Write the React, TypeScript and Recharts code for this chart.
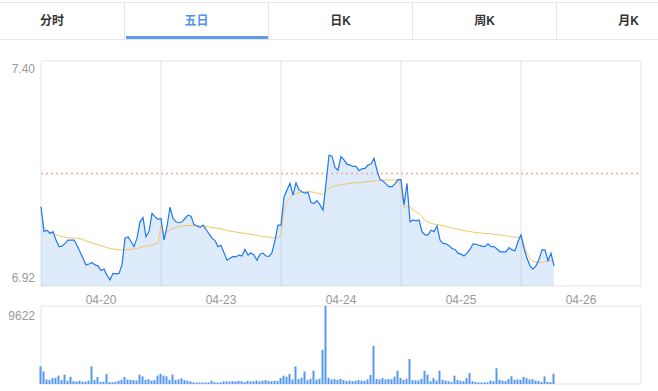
import {
  Area,
  Bar,
  BarChart,
  CartesianGrid,
  ComposedChart,
  Line,
  ReferenceLine,
  XAxis,
  YAxis,
} from "recharts";

const tabs = ["分时", "五日", "日K", "周K", "月K"];
const activeTab = 1;

const dayLabels = ["04-20", "04-23", "04-24", "04-25", "04-26"];
const pointsPerDay = 40;
const priceRange = [6.92, 7.4];
const prevClose = 7.16;
const volumeMax = 9622;

const price0420 = [
  7.089, 7.036, 7.039, 7.032, 7.036, 7.018, 7.004, 7.005, 7.011, 7.018,
  7.018, 7.018, 7.007, 6.993, 6.979, 6.965, 6.967, 6.97, 6.965, 6.963,
  6.953, 6.956, 6.943, 6.933, 6.947, 6.946, 6.947, 6.965, 7.022, 7.025,
  7.015, 7.004, 7.022, 7.057, 7.066, 7.025, 7.036, 7.075, 7.068, 7.062,
];
const price0423 = [
  7.064, 7.018, 7.047, 7.088, 7.064, 7.057, 7.055, 7.057, 7.064, 7.071,
  7.069, 7.051, 7.048, 7.045, 7.05, 7.041, 7.031, 7.022, 7.017, 7.004,
  7.007, 6.991, 6.975, 6.979, 6.983, 6.982, 6.986, 6.984, 6.998, 6.986,
  6.991, 6.986, 6.975, 6.988, 6.99, 6.984, 6.983, 6.991, 7.018, 7.05,
];
const price0424 = [
  7.05, 7.11, 7.125, 7.139, 7.114, 7.14, 7.125, 7.121, 7.118, 7.12,
  7.098, 7.096, 7.102, 7.093, 7.082, 7.139, 7.199, 7.197, 7.173, 7.167,
  7.196, 7.189, 7.18, 7.178, 7.175, 7.175, 7.166, 7.17, 7.171, 7.178,
  7.18, 7.192, 7.167, 7.147, 7.144, 7.138, 7.132, 7.132, 7.138, 7.147,
];
const price0425 = [
  7.147, 7.093, 7.139, 7.057, 7.061, 7.059, 7.061, 7.036, 7.029, 7.029,
  7.039, 7.036, 7.048, 7.018, 7.011, 7.01, 7.006, 7.0, 6.998, 6.99,
  6.988, 6.984, 6.99, 6.998, 7.01, 7.009, 7.007, 7.005, 7.004, 7.01,
  7.004, 7.004, 6.999, 6.993, 6.993, 6.993, 7.002, 6.997, 6.995, 7.015,
];
const price0426 = [
  7.029, 7.0, 6.979, 6.963, 6.956, 6.963, 6.977, 6.997, 6.997, 6.974, 6.99, 6.963,
];

const avg0420 = [
  7.08, 7.045, 7.038, 7.035, 7.032, 7.029, 7.027, 7.025, 7.024, 7.023,
  7.023, 7.022, 7.022, 7.021, 7.019, 7.016, 7.014, 7.012, 7.01, 7.008,
  7.006, 7.004, 7.002, 7.0, 6.999, 6.998, 6.997, 6.997, 6.997, 6.998,
  6.998, 6.999, 7.0, 7.002, 7.004, 7.005, 7.006, 7.008, 7.01, 7.011,
];
const avg0423 = [
  7.05, 7.028, 7.035, 7.04, 7.043, 7.045, 7.047, 7.048, 7.049, 7.049,
  7.049, 7.049, 7.049, 7.048, 7.048, 7.047, 7.046, 7.045, 7.044, 7.043,
  7.042, 7.04, 7.039, 7.037, 7.036, 7.035, 7.034, 7.033, 7.032, 7.031,
  7.03, 7.029, 7.028, 7.027, 7.026, 7.025, 7.024, 7.023, 7.022, 7.022,
];
const avg0424 = [
  7.03, 7.085, 7.1, 7.108, 7.114, 7.117, 7.119, 7.12, 7.121, 7.121,
  7.121, 7.12, 7.118, 7.117, 7.115, 7.122, 7.128, 7.132, 7.134, 7.135,
  7.136, 7.137, 7.138, 7.139, 7.14, 7.14, 7.141, 7.141, 7.142, 7.143,
  7.143, 7.144, 7.145, 7.146, 7.146, 7.146, 7.146, 7.146, 7.146, 7.146,
];
const avg0425 = [
  7.13, 7.086, 7.091, 7.088, 7.083, 7.079, 7.075, 7.068, 7.06, 7.056,
  7.054, 7.052, 7.051, 7.05, 7.049, 7.047, 7.045, 7.044, 7.042, 7.041,
  7.04, 7.038, 7.037, 7.036, 7.035, 7.034, 7.033, 7.033, 7.032, 7.032,
  7.031, 7.03, 7.03, 7.029, 7.028, 7.027, 7.026, 7.025, 7.024, 7.024,
];
const avg0426 = [
  7.026, 7.008, 6.99, 6.978, 6.973, 6.971, 6.97, 6.97, 6.972, 6.974, 6.975, 6.975,
];

const vol0420 = [
  2170, 1540, 560, 520, 720, 760, 1030, 480, 1150, 400,
  890, 350, 300, 420, 310, 290, 420, 2170, 480, 860,
  260, 300, 1250, 240, 230, 280, 420, 520, 860, 540,
  510, 480, 420, 1150, 940, 520, 600, 420, 480, 1030,
];
const vol0423 = [
  1250, 1030, 940, 520, 1150, 480, 560, 690, 480, 400,
  330, 200, 180, 190, 170, 200, 190, 420, 230, 180,
  200, 310, 340, 300, 360, 320, 400, 340, 240, 380,
  330, 350, 440, 320, 420, 480, 380, 330, 420, 380,
];
const vol0424 = [
  740, 1030, 900, 1230, 560, 2170, 600, 780, 1540, 480,
  650, 1640, 540, 650, 4230, 9622, 760, 560, 610, 520,
  640, 480, 380, 420, 350, 400, 480, 420, 380, 560,
  1110, 4700, 620, 560, 740, 560, 620, 580, 900, 1640,
];
const vol0425 = [
  740, 520, 640, 3080, 480, 450, 450, 640, 1640, 1150,
  350, 720, 420, 1640, 520, 420, 350, 240, 1030, 500,
  400, 350, 720, 1350, 350, 240, 200, 190, 210, 200,
  420, 350, 1950, 520, 420, 350, 600, 960, 520, 560,
];
const vol0426 = [520, 860, 720, 560, 600, 420, 380, 240, 940, 260, 240, 1270];

const priceByDay = [price0420, price0423, price0424, price0425, price0426];
const avgByDay = [avg0420, avg0423, avg0424, avg0425, avg0426];
const volByDay = [vol0420, vol0423, vol0424, vol0425, vol0426];

const data = priceByDay.flatMap((prices, d) =>
  prices.map((p, k) => ({
    t: d * pointsPerDay + k,
    price: p,
    avg: avgByDay[d][k],
    vol: volByDay[d][k],
  }))
);

const dayTicks = dayLabels.map((_, i) => i * pointsPerDay).concat(dayLabels.length * pointsPerDay);
const xDomain = [0, dayLabels.length * pointsPerDay];

const font = "'Liberation Sans', Arial, 'Noto Sans CJK SC', sans-serif";
const labelColor = "#999";
const gridColor = "#e1e5ea";
const halfDay = 60;

function DayTick({ x, y, payload }: any) {
  const label = dayLabels[payload.value / pointsPerDay];
  if (!label) return <g />;
  return (
    <text x={x + halfDay} y={y + 12} dy="0.35em" textAnchor="middle" fill={labelColor} fontSize={12} fontFamily={font}>
      {label}
    </text>
  );
}

function EdgeTick({ x, y, payload, top, topLabel, bottomLabel, shift }: any) {
  const isTop = payload.value === top;
  return (
    <text
      x={x}
      y={isTop ? y + shift : y - shift}
      dy="0.35em"
      textAnchor="end"
      fill={labelColor}
      fontSize={12}
      fontFamily={font}
    >
      {isTop ? topLabel : bottomLabel}
    </text>
  );
}

function Tabs() {
  return (
    <div style={{ position: "absolute", left: 0, top: 2, width: 658, height: 36, borderTop: "1px solid #e6e6e6", borderBottom: "1px solid #e6e6e6", overflow: "hidden" }}>
      {tabs.map((t, i) => (
        <div
          key={t}
          style={{
            position: "absolute",
            left: -20 + i * 144,
            top: 0,
            width: 144,
            height: 36,
            boxSizing: "border-box",
            borderLeft: i > 0 ? "1px solid #e6e6e6" : "none",
            textAlign: "center",
            lineHeight: "36px",
            fontSize: 12,
            fontWeight: 700,
            color: i === activeTab ? "#4f94ec" : "#333",
          }}
        >
          {t}
          {i === activeTab && (
            <div style={{ position: "absolute", left: 1, right: 0, bottom: 0, height: 3, background: "#5b9cee" }} />
          )}
        </div>
      ))}
    </div>
  );
}

export default function App() {
  return (
    <div style={{ position: "absolute", left: 0, top: 0, width: 658, height: 391, background: "#fff", fontFamily: font }}>
      <Tabs />
      <div style={{ position: "absolute", left: 0, top: 0 }}>
        <ComposedChart width={658} height={310} data={data} margin={{ top: 61, right: 17, bottom: 0, left: 0 }}>
          <CartesianGrid stroke={gridColor} />
          <XAxis
            dataKey="t"
            type="number"
            domain={xDomain}
            ticks={dayTicks}
            interval={0}
            height={24}
            axisLine={false}
            tickLine={false}
            tickSize={0}
            tick={<DayTick />}
          />
          <YAxis
            type="number"
            domain={priceRange}
            ticks={priceRange}
            width={41}
            axisLine={false}
            tickLine={false}
            tickSize={0}
            tickMargin={6}
            tick={<EdgeTick top={priceRange[1]} topLabel="7.40" bottomLabel="6.92" shift={8} />}
          />
          <ReferenceLine y={prevClose} stroke="#f6a5a5" strokeWidth={1.5} strokeDasharray="2 3" />
          <Area
            type="linear"
            dataKey="price"
            stroke="none"
            fill="#3b8bea"
            fillOpacity={0.17}
            isAnimationActive={false}
          />
          <Line type="linear" dataKey="avg" stroke="#f6c56a" strokeWidth={1} dot={false} isAnimationActive={false} />
          <Line type="linear" dataKey="price" stroke="#1f78f0" strokeWidth={1.2} dot={false} isAnimationActive={false} />
        </ComposedChart>
      </div>
      <div style={{ position: "absolute", left: 0, top: 300 }}>
        <BarChart width={658} height={91} data={data} margin={{ top: 6, right: 17, bottom: 7, left: 0 }}>
          <CartesianGrid stroke={gridColor} />
          <XAxis
            dataKey="t"
            type="number"
            domain={xDomain}
            ticks={dayTicks}
            interval={0}
            height={0}
            axisLine={false}
            tickLine={false}
            tick={false}
          />
          <YAxis
            type="number"
            domain={[0, volumeMax]}
            ticks={[0, volumeMax]}
            width={41}
            axisLine={false}
            tickLine={false}
            tickSize={0}
            tickMargin={6}
            tick={<EdgeTick top={volumeMax} topLabel="9622" bottomLabel="手" shift={7} />}
          />
          <Bar dataKey="vol" fill="#5598f0" barSize={2} isAnimationActive={false} />
        </BarChart>
      </div>
    </div>
  );
}
